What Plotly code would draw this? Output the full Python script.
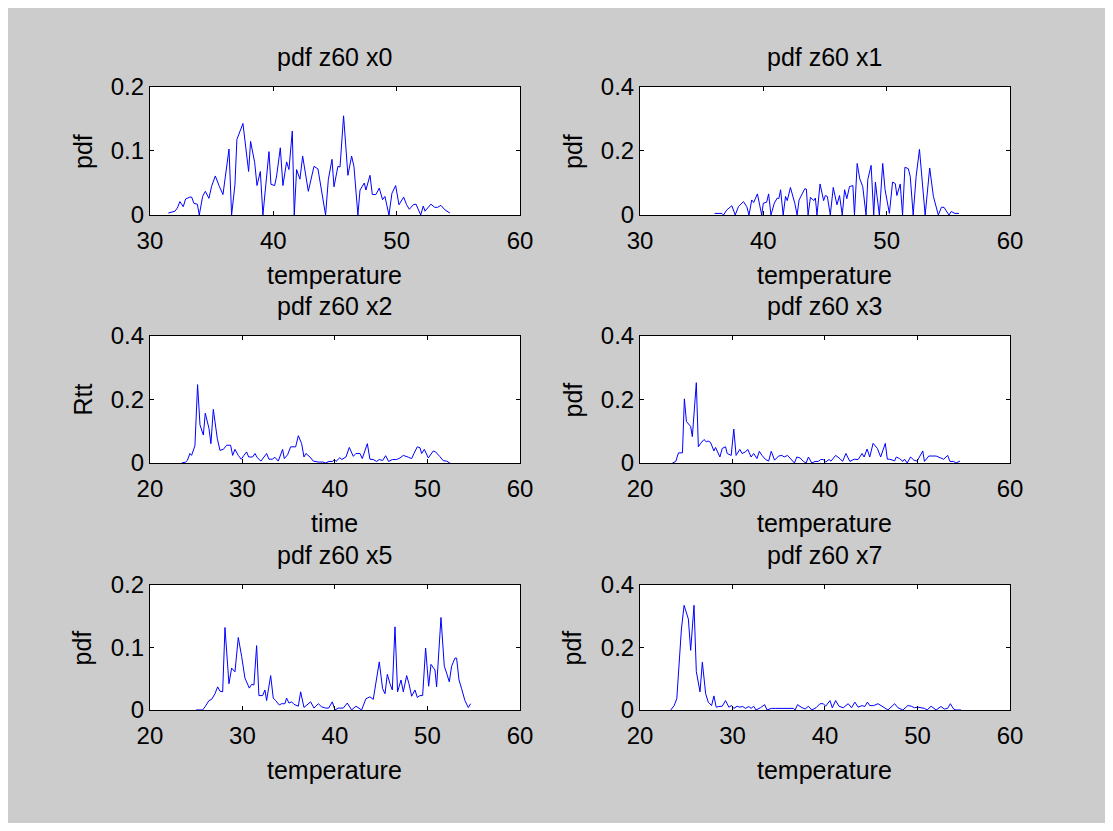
import plotly.graph_objects as go

# ---------------- data ----------------
x0_t = [31.49, 31.81, 32.03, 32.22, 32.43, 32.70, 32.89, 33.24, 33.38, 33.57, 33.84, 34.00, 34.27, 34.49, 34.78,
        35.00, 35.30, 35.62, 35.92, 36.41, 36.62, 36.89, 37.05, 37.54, 37.78, 38.00, 38.16, 38.49, 38.68, 38.95,
        39.16, 39.41, 39.65, 39.81, 40.11, 40.27, 40.57, 40.78, 41.08, 41.27, 41.54, 41.70, 41.89, 42.16, 42.38,
        42.84, 43.30, 43.62, 43.92, 44.24, 44.46, 44.76, 44.92, 45.24, 45.41, 45.70, 46.05, 46.35, 46.54, 46.86,
        47.03, 47.38, 47.51, 47.84, 48.03, 48.32, 48.59, 48.86, 49.05, 49.38, 49.62, 49.92, 50.19, 50.57, 50.81,
        51.03, 51.35, 51.57, 51.95, 52.16, 52.30, 52.78, 53.08, 53.32, 53.59, 53.92, 54.32]
x0_pdf = [0.003, 0.005, 0.006, 0.011, 0.021, 0.013, 0.025, 0.028, 0.028, 0.018, 0.017, 0.0, 0.029, 0.037, 0.026,
          0.045, 0.061, 0.045, 0.032, 0.103, 0.0, 0.047, 0.118, 0.143, 0.108, 0.068, 0.115, 0.082, 0.046, 0.068,
          0.0, 0.045, 0.099, 0.048, 0.046, 0.061, 0.105, 0.046, 0.083, 0.071, 0.131, 0.0, 0.071, 0.056, 0.092,
          0.037, 0.076, 0.072, 0.037, 0.0, 0.055, 0.087, 0.044, 0.076, 0.075, 0.155, 0.062, 0.092, 0.076, 0.0,
          0.039, 0.050, 0.039, 0.062, 0.032, 0.032, 0.042, 0.024, 0.029, 0.0, 0.034, 0.046, 0.016, 0.028, 0.016,
          0.009, 0.016, 0.017, 0.0, 0.014, 0.006, 0.017, 0.012, 0.012, 0.015, 0.008, 0.003]

x1_t = [36.05, 36.64, 36.77, 37.04, 37.45, 37.72, 37.98, 38.39, 38.66, 38.84, 39.06, 39.22, 39.52, 39.73, 39.87,
        40.00, 40.27, 40.43, 40.62, 40.89, 41.13, 41.26, 41.40, 41.61, 41.80, 41.94, 42.20, 42.55, 42.74, 42.90,
        43.36, 43.49, 43.63, 43.82, 44.09, 44.22, 44.35, 44.60, 44.89, 45.03, 45.19, 45.43, 45.67, 45.97, 46.18,
        46.40, 46.59, 46.77, 46.99, 47.26, 47.39, 47.61, 47.82, 48.06, 48.33, 48.47, 48.74, 48.95, 49.09, 49.22,
        49.41, 49.68, 49.87, 50.22, 50.48, 50.70, 50.83, 51.10, 51.29, 51.48, 51.75, 51.91, 52.15, 52.39, 52.66,
        53.12, 53.49, 53.79, 54.19, 54.44, 54.65, 55.05, 55.24, 55.38, 55.54, 55.86]
x1_pdf = [0.005, 0.005, 0.0, 0.016, 0.029, 0.0, 0.026, 0.042, 0.026, 0.0, 0.047, 0.039, 0.066, 0.026, 0.0,
          0.037, 0.040, 0.066, 0.0, 0.037, 0.053, 0.051, 0.079, 0.0, 0.058, 0.045, 0.086, 0.037, 0.0, 0.047,
          0.082, 0.081, 0.0, 0.055, 0.045, 0.053, 0.0, 0.097, 0.045, 0.061, 0.058, 0.0, 0.086, 0.032, 0.061,
          0.0, 0.079, 0.051, 0.089, 0.092, 0.0, 0.161, 0.113, 0.089, 0.0, 0.111, 0.155, 0.0, 0.103, 0.058,
          0.0, 0.161, 0.079, 0.005, 0.103, 0.098, 0.061, 0.097, 0.0, 0.149, 0.145, 0.121, 0.0, 0.121, 0.205,
          0.0, 0.147, 0.058, 0.0, 0.024, 0.024, 0.0, 0.011, 0.008, 0.005, 0.005]

x2_time = [23.42, 23.86, 24.04, 24.32, 24.50, 24.86, 25.15, 25.41, 25.77, 25.98, 26.38, 26.59, 26.85, 27.28, 27.57,
           27.93, 28.29, 28.72, 28.94, 29.19, 29.55, 29.87, 30.16, 30.45, 30.67, 31.10, 31.35, 31.60, 32.00, 32.61,
           32.86, 33.23, 33.51, 33.87, 34.34, 34.52, 34.88, 35.21, 35.75, 36.04, 36.40, 36.65, 36.86, 37.30, 37.66,
           38.20, 38.67, 38.99, 39.35, 39.75, 39.93, 40.11, 40.54, 40.72, 41.19, 41.55, 41.98, 42.27, 42.70, 42.95,
           43.50, 43.78, 44.14, 44.50, 44.79, 45.15, 45.48, 45.80, 46.20, 46.67, 47.03, 47.39, 47.96, 48.29, 48.54,
           48.90, 49.19, 49.37, 49.66, 50.09, 50.63, 50.88, 51.35, 51.71, 52.07, 52.43]
x2_rtt = [0.0, 0.003, 0.008, 0.030, 0.024, 0.054, 0.247, 0.120, 0.088, 0.157, 0.109, 0.061, 0.169, 0.077, 0.040,
          0.043, 0.056, 0.056, 0.024, 0.043, 0.024, 0.012, 0.024, 0.035, 0.019, 0.019, 0.030, 0.017, 0.006, 0.030,
          0.012, 0.012, 0.018, 0.006, 0.043, 0.014, 0.026, 0.051, 0.051, 0.086, 0.061, 0.019, 0.030, 0.019, 0.006,
          0.003, 0.003, 0.0, 0.005, 0.005, 0.011, 0.005, 0.017, 0.011, 0.019, 0.049, 0.021, 0.030, 0.030, 0.014,
          0.061, 0.012, 0.011, 0.005, 0.011, 0.008, 0.023, 0.005, 0.011, 0.011, 0.016, 0.024, 0.018, 0.014, 0.030,
          0.051, 0.048, 0.030, 0.043, 0.016, 0.038, 0.035, 0.020, 0.007, 0.006, 0.0]

x3_t = [23.51, 23.87, 24.16, 24.59, 24.80, 25.02, 25.48, 25.66, 26.09, 26.31, 26.56, 26.92, 27.17, 27.38, 27.63,
        27.99, 28.17, 28.42, 28.64, 28.89, 29.25, 29.43, 29.86, 30.14, 30.39, 30.79, 31.04, 31.40, 31.65, 32.01,
        32.29, 32.65, 32.90, 33.19, 33.55, 33.91, 34.19, 34.55, 34.98, 35.34, 35.59, 35.95, 36.24, 36.70, 36.95,
        37.31, 37.67, 37.96, 38.21, 38.57, 38.92, 39.28, 39.53, 39.82, 40.07, 40.43, 40.65, 41.15, 41.61, 41.90,
        42.26, 42.69, 43.15, 43.58, 44.01, 44.23, 44.55, 44.84, 45.20, 45.66, 46.02, 46.52, 46.74, 46.99, 47.53,
        47.71, 48.06, 48.42, 48.60, 48.89, 49.25, 49.61, 49.96, 50.57, 50.75, 51.22, 52.01, 52.26, 52.83, 53.26,
        53.51, 53.91, 54.16, 54.59]
x3_pdf = [0.0, 0.005, 0.032, 0.032, 0.202, 0.131, 0.115, 0.083, 0.253, 0.051, 0.062, 0.074, 0.067, 0.069, 0.065,
          0.038, 0.049, 0.030, 0.019, 0.046, 0.051, 0.030, 0.024, 0.107, 0.024, 0.043, 0.030, 0.035, 0.043, 0.019,
          0.030, 0.014, 0.037, 0.024, 0.012, 0.006, 0.037, 0.009, 0.022, 0.024, 0.019, 0.024, 0.014, 0.0, 0.019,
          0.016, 0.005, 0.0, 0.019, 0.0, 0.005, 0.005, 0.011, 0.011, 0.003, 0.011, 0.006, 0.024, 0.014, 0.005,
          0.030, 0.005, 0.012, 0.011, 0.030, 0.019, 0.044, 0.019, 0.062, 0.046, 0.019, 0.062, 0.012, 0.012, 0.007,
          0.019, 0.014, 0.005, 0.012, 0.0, 0.019, 0.009, 0.006, 0.038, 0.005, 0.022, 0.022, 0.019, 0.012, 0.024,
          0.005, 0.005, 0.0, 0.006]

x5_t = [24.97, 25.69, 25.95, 26.38, 26.67, 27.03, 27.32, 27.57, 27.86, 28.11, 28.54, 28.83, 29.19, 29.55, 29.91,
        30.27, 30.74, 30.99, 31.24, 31.53, 31.78, 32.18, 32.43, 32.61, 33.05, 33.33, 33.59, 33.98, 34.23, 34.59,
        34.77, 35.03, 35.32, 35.57, 36.04, 36.29, 36.65, 36.94, 37.37, 37.73, 38.20, 38.56, 38.99, 39.32, 39.71,
        40.00, 40.36, 40.90, 41.33, 41.80, 42.27, 42.88, 43.35, 43.78, 44.14, 44.79, 45.15, 45.41, 45.66, 45.95,
        46.20, 46.49, 46.77, 47.14, 47.39, 47.75, 48.00, 48.29, 48.65, 48.90, 49.19, 49.48, 49.80, 50.13, 50.38,
        50.81, 50.99, 51.46, 51.82, 52.07, 52.36, 52.61, 52.97, 53.15, 53.41, 53.69, 54.05, 54.41, 54.67]
x5_pdf = [0.0, 0.0, 0.005, 0.015, 0.017, 0.026, 0.037, 0.030, 0.029, 0.132, 0.042, 0.067, 0.061, 0.116, 0.086,
          0.051, 0.035, 0.041, 0.040, 0.103, 0.023, 0.023, 0.032, 0.015, 0.055, 0.019, 0.015, 0.008, 0.010, 0.010,
          0.019, 0.011, 0.013, 0.009, 0.006, 0.029, 0.004, 0.008, 0.013, 0.003, 0.010, 0.005, 0.003, 0.003, 0.013,
          0.0, 0.003, 0.003, 0.011, 0.0, 0.006, 0.0, 0.018, 0.021, 0.017, 0.077, 0.034, 0.026, 0.057, 0.042,
          0.032, 0.133, 0.029, 0.048, 0.029, 0.055, 0.042, 0.022, 0.032, 0.020, 0.023, 0.023, 0.099, 0.038, 0.073,
          0.064, 0.037, 0.148, 0.070, 0.059, 0.045, 0.070, 0.083, 0.083, 0.048, 0.034, 0.015, 0.004, 0.010]

x7_t = [23.33, 23.69, 23.98, 24.23, 24.48, 24.77, 25.23, 25.48, 25.84, 26.09, 26.49, 26.74, 27.10, 27.38, 27.74,
        27.99, 28.24, 28.53, 28.89, 29.25, 29.61, 29.89, 30.14, 30.50, 30.75, 31.11, 31.40, 31.76, 32.01, 32.29,
        32.54, 33.01, 33.48, 33.73, 34.19, 34.62, 36.59, 36.77, 37.03, 37.42, 37.85, 38.21, 38.57, 39.03, 39.46,
        39.82, 40.07, 40.54, 40.79, 41.15, 41.51, 41.97, 42.51, 42.87, 43.23, 43.58, 44.01, 44.30, 44.59, 44.84,
        45.27, 45.73, 46.27, 46.81, 47.53, 47.89, 48.42, 48.96, 49.32, 49.68, 50.04, 50.39, 50.75, 51.04, 51.47,
        52.01, 52.54, 52.90, 53.26, 53.55, 53.91, 54.16, 54.70]
x7_pdf = [0.0, 0.014, 0.036, 0.155, 0.259, 0.335, 0.291, 0.191, 0.335, 0.123, 0.058, 0.153, 0.052, 0.025, 0.014,
          0.045, 0.009, 0.011, 0.012, 0.030, 0.009, 0.014, 0.005, 0.012, 0.009, 0.011, 0.005, 0.011, 0.005, 0.012,
          0.0, 0.007, 0.017, 0.0, 0.005, 0.005, 0.005, 0.0, 0.017, 0.009, 0.003, 0.012, 0.0, 0.007, 0.020,
          0.020, 0.012, 0.030, 0.007, 0.030, 0.012, 0.007, 0.020, 0.007, 0.025, 0.009, 0.014, 0.011, 0.025, 0.014,
          0.014, 0.020, 0.011, 0.0, 0.020, 0.007, 0.0, 0.014, 0.012, 0.007, 0.009, 0.007, 0.005, 0.0, 0.012,
          0.0, 0.011, 0.003, 0.005, 0.020, 0.003, 0.0, 0.0]

titles = ["pdf z60 x0", "pdf z60 x1", "pdf z60 x2", "pdf z60 x3", "pdf z60 x5", "pdf z60 x7"]
xlabels = ["temperature", "temperature", "time", "temperature", "temperature", "temperature"]
ylabels = ["pdf", "pdf", "Rtt", "pdf", "pdf", "pdf"]
x_ranges = [[30, 60], [30, 60], [20, 60], [20, 60], [20, 60], [20, 60]]
y_ranges = [[0, 0.2], [0, 0.4], [0, 0.4], [0, 0.4], [0, 0.2], [0, 0.4]]
y_dticks = [0.1, 0.2, 0.2, 0.2, 0.1, 0.2]
series = [(x0_t, x0_pdf), (x1_t, x1_pdf), (x2_time, x2_rtt), (x3_t, x3_pdf), (x5_t, x5_pdf), (x7_t, x7_pdf)]

# ---------------- layout ----------------
W, H = 1097, 815
FONT = "Liberation Sans, Arial, sans-serif"
FS_TICK = 24
FS_TITLE = 25
FS_LABEL = 25
col_dom = [[0.1294, 0.4667], [0.5761, 0.9134]]
row_dom = [[0.7460, 0.9031], [0.4417, 0.5975], [0.1387, 0.2920]]

fig = go.Figure()
annotations = []
for i, (xs, ys) in enumerate(series):
    r, c = divmod(i, 2)
    n = "" if i == 0 else str(i + 1)
    fig.add_trace(go.Scatter(x=xs, y=ys, mode="lines", line=dict(color="#0000ff", width=1),
                             xaxis="x" + n, yaxis="y" + n, showlegend=False))
    axcommon = dict(showgrid=False, zeroline=False, showline=True, linecolor="black", linewidth=1,
                    mirror="ticks", ticks="inside", ticklen=4, tickcolor="black", tickwidth=1,
                    automargin=False, tickfont=dict(family=FONT, size=FS_TICK, color="black"))
    fig.layout["xaxis" + n] = dict(domain=col_dom[c], anchor="y" + n, range=x_ranges[i], dtick=10,
                                   tick0=0, ticklabelstandoff=4, **axcommon)
    fig.layout["yaxis" + n] = dict(domain=row_dom[r], anchor="x" + n, range=y_ranges[i], dtick=y_dticks[i],
                                   tick0=0, **axcommon)
    xd = "x" + n + " domain"
    yd = "y" + n + " domain"
    annotations.append(dict(text=titles[i], xref=xd, yref=yd, x=0.5, y=1, yshift=30, showarrow=False,
                            xanchor="center", yanchor="middle",
                            font=dict(family=FONT, size=FS_TITLE, color="black")))
    annotations.append(dict(text=xlabels[i], xref=xd, yref=yd, x=0.5, y=0, yshift=-60, showarrow=False,
                            xanchor="center", yanchor="middle",
                            font=dict(family=FONT, size=FS_LABEL, color="black")))
    annotations.append(dict(text=ylabels[i], xref=xd, yref=yd, x=0, y=0.5, xshift=-67, showarrow=False,
                            textangle=-90, xanchor="center", yanchor="middle",
                            font=dict(family=FONT, size=FS_LABEL, color="black")))

fig.update_layout(template="none", width=W, height=H, margin=dict(l=0, r=0, t=0, b=0, pad=0),
                  paper_bgcolor="#cccccc", plot_bgcolor="white", annotations=annotations,
                  font=dict(family=FONT, size=FS_TICK, color="black"))

fig.write_html("out.html")
